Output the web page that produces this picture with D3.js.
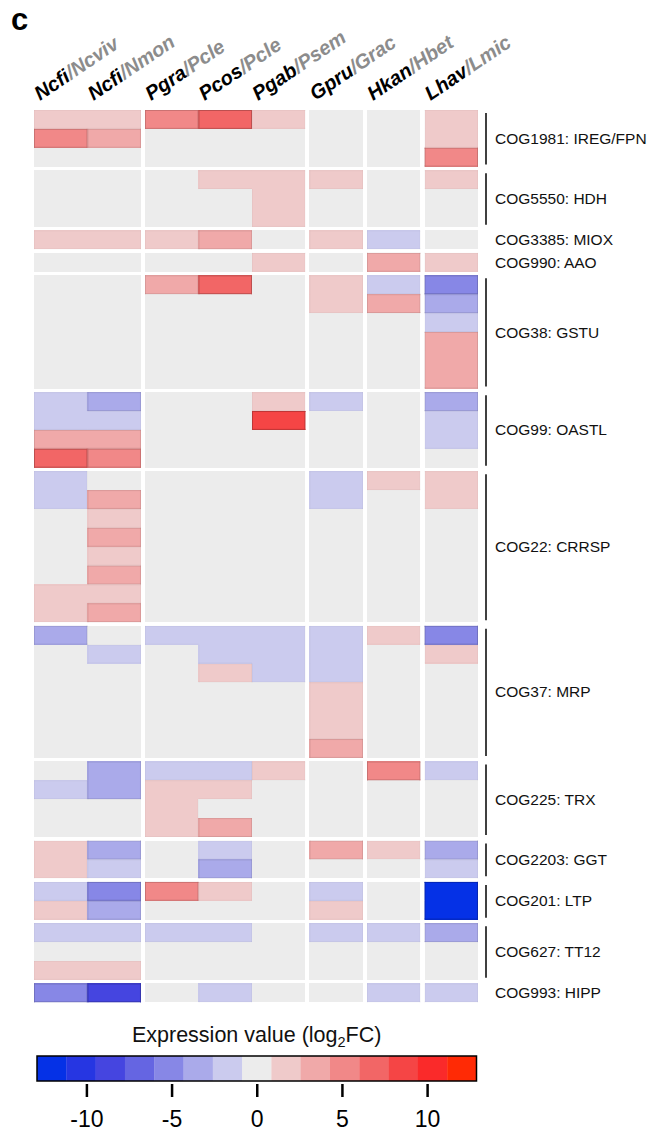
<!DOCTYPE html>
<html>
<head>
<meta charset="utf-8">
<script src="https://cdn.jsdelivr.net/npm/d3@7"></script>
<style>
  html, body { margin: 0; padding: 0; background: #fff; }
  svg { display: block; font-family: "Liberation Sans", Arial, Helvetica, sans-serif; }
</style>
</head>
<body>
<svg id="chart" width="652" height="1134"></svg>
<script>
// ---------------- DATA ----------------
const columns = ["Ncfi/Ncviv", "Ncfi/Nmon", "Pgra/Pcle", "Pcos/Pcle", "Pgab/Psem", "Gpru/Grac", "Hkan/Hbet", "Lhav/Lmic"];
const columnGroup = [0, 0, 1, 1, 1, 2, 3, 4];

const groupLabels = ["COG1981: IREG/FPN", "COG5550: HDH", "COG3385: MIOX", "COG990: AAO", "COG38: GSTU",
  "COG99: OASTL", "COG22: CRRSP", "COG37: MRP", "COG225: TRX", "COG2203: GGT", "COG201: LTP",
  "COG627: TT12", "COG993: HIPP"];

// log2FC values, one row per gene, columns in the order above
const IREG = [
  [2, 2, 5, 7, 2, 0, 0, 2],
  [5, 3.5, 0, 0, 0, 0, 0, 2],
  [0, 0, 0, 0, 0, 0, 0, 5]
];
const HDH = [
  [0, 0, 0, 2, 2, 2, 0, 2],
  [0, 0, 0, 0, 2, 0, 0, 0],
  [0, 0, 0, 0, 2, 0, 0, 0]
];
const MIOX = [
  [2, 2, 2, 3.5, 0, 2, -2, 0]
];
const AAO = [
  [0, 0, 0, 0, 2, 0, 3.5, 2]
];
const GSTU = [
  [0, 0, 3.5, 7, 0, 2, -2, -5],
  [0, 0, 0, 0, 0, 2, 3.5, -3.5],
  [0, 0, 0, 0, 0, 0, 0, -2],
  [0, 0, 0, 0, 0, 0, 0, 3.5],
  [0, 0, 0, 0, 0, 0, 0, 3.5],
  [0, 0, 0, 0, 0, 0, 0, 3.5]
];
const OASTL = [
  [-2, -3.5, 0, 0, 2, -2, 0, -3.5],
  [-2, -2, 0, 0, 8.5, 0, 0, -2],
  [3.5, 3.5, 0, 0, 0, 0, 0, -2],
  [7, 5, 0, 0, 0, 0, 0, 0]
];
const CRRSP = [
  [-2, 0, 0, 0, 0, -2, 2, 2],
  [-2, 3.5, 0, 0, 0, -2, 0, 2],
  [0, 2, 0, 0, 0, 0, 0, 0],
  [0, 3.5, 0, 0, 0, 0, 0, 0],
  [0, 2, 0, 0, 0, 0, 0, 0],
  [0, 3.5, 0, 0, 0, 0, 0, 0],
  [2, 2, 0, 0, 0, 0, 0, 0],
  [2, 3.5, 0, 0, 0, 0, 0, 0]
];
const MRP = [
  [-3.5, 0, -2, -2, -2, -2, 2, -5],
  [0, -2, 0, -2, -2, -2, 0, 2],
  [0, 0, 0, 2, -2, -2, 0, 0],
  [0, 0, 0, 0, 0, 2, 0, 0],
  [0, 0, 0, 0, 0, 2, 0, 0],
  [0, 0, 0, 0, 0, 2, 0, 0],
  [0, 0, 0, 0, 0, 3.5, 0, 0]
];
const TRX = [
  [0, -3.5, -2, -2, 2, 0, 5, -2],
  [-2, -3.5, 2, 2, 0, 0, 0, 0],
  [0, 0, 2, 0, 0, 0, 0, 0],
  [0, 0, 2, 3.5, 0, 0, 0, 0]
];
const GGT = [
  [2, -3.5, 0, -2, 0, 3.5, 2, -3.5],
  [2, -2, 0, -3.5, 0, 0, 0, -2]
];
const LTP = [
  [-2, -5, 5, 2, 0, -2, 0, -12],
  [2, -3.5, 0, 0, 0, 2, 0, -12]
];
const TT12 = [
  [-2, -2, -2, -2, 0, -2, -2, -3.5],
  [0, 0, 0, 0, 0, 0, 0, 0],
  [2, 2, 0, 0, 0, 0, 0, 0]
];
const HIPP = [
  [-5, -8.5, 0, -2, 0, 0, -2, -2]
];
const groupValues = [IREG, HDH, MIOX, AAO, GSTU, OASTL, CRRSP, MRP, TRX, GGT, LTP, TT12, HIPP];

// colour key
const legendTicks = [-10, -5, 0, 5, 10];
const legendDomain = [-12.9, 12.9];
const binColors = ["#0531e6", "#2636e2", "#4545e0", "#6565e2", "#8787e6", "#aaaaea", "#cbcbee",
  "#ececec", "#efcaca", "#f0a9a9", "#f18888", "#f26666", "#f54545", "#fa2a2a", "#ff2a05"];

// ---------------- LAYOUT ----------------
const svg = d3.select("#chart");
const colGapFrac = 0.075, rowGapFrac = 0.19;

const colSlot = columns.map((c, i) => i + columnGroup[i] * colGapFrac);
const nColSlots = columns.length + d3.max(columnGroup) * colGapFrac;
const x = d3.scaleLinear().domain([0, nColSlots]).range([34, 478]);

const rows = [];
let r = 0;
groupValues.forEach((g, gi) => {
  g.forEach((vals, ri) => {
    rows.push({ group: gi, ri, slot: r + gi * rowGapFrac, vals });
    r++;
  });
});
const nRowSlots = r + (groupValues.length - 1) * rowGapFrac;
const y = d3.scaleLinear().domain([0, nRowSlots]).range([110, 1002.3]);

const color = d3.scaleQuantize().domain(legendDomain).range(binColors);
const binIndex = v => binColors.indexOf(color(v)) - 7;

// ---------------- CELLS ----------------
const cells = [];
rows.forEach(row => row.vals.forEach((v, ci) => cells.push({ v, ci, ri: row.ri, group: row.group, slot: row.slot })));

const cellAt = (g, ri, ci) => {
  const m = groupValues[g];
  if (ri < 0 || ri >= m.length || ci < 0 || ci >= columns.length) return null;
  return m[ri][ci];
};

const gCells = svg.append("g");
gCells.selectAll("rect").data(cells).join("rect")
  .attr("x", d => x(colSlot[d.ci]))
  .attr("y", d => y(d.slot))
  .attr("width", d => x(colSlot[d.ci] + 1) - x(colSlot[d.ci]))
  .attr("height", d => y(d.slot + 1) - y(d.slot))
  .attr("fill", d => color(d.v))
  .attr("shape-rendering", "crispEdges");

// outline of each coloured block (only where the neighbour has another colour)
function edgePath(d) {
  const x0 = x(colSlot[d.ci]) + 0.5, x1 = x(colSlot[d.ci] + 1) - 0.5;
  const y0 = y(d.slot) + 0.5, y1 = y(d.slot + 1) - 0.5;
  const c = color(d.v);
  const diff = n => n === null || color(n) !== c;
  const left = (d.ci > 0 && columnGroup[d.ci - 1] === columnGroup[d.ci]) ? cellAt(d.group, d.ri, d.ci - 1) : null;
  const right = (d.ci < columns.length - 1 && columnGroup[d.ci + 1] === columnGroup[d.ci]) ? cellAt(d.group, d.ri, d.ci + 1) : null;
  let p = "";
  if (diff(cellAt(d.group, d.ri - 1, d.ci))) p += `M${x0 - 0.5},${y0}H${x1 + 0.5}`;
  if (diff(cellAt(d.group, d.ri + 1, d.ci))) p += `M${x0 - 0.5},${y1}H${x1 + 0.5}`;
  if (diff(left)) p += `M${x0},${y0 - 0.5}V${y1 + 0.5}`;
  if (diff(right)) p += `M${x1},${y0 - 0.5}V${y1 + 0.5}`;
  return p || null;
}
gCells.selectAll("path").data(cells.filter(d => binIndex(d.v) !== 0)).join("path")
  .attr("d", edgePath)
  .attr("fill", "none")
  .attr("stroke", d => d3.color(color(d.v)).darker(0.7))
  .attr("stroke-opacity", d => Math.min(1, (Math.abs(binIndex(d.v)) - 0.6) * 0.3))
  .attr("stroke-width", 1);

// ---------------- COLUMN LABELS ----------------
const colLab = svg.append("g").selectAll("text").data(columns).join("text")
  .attr("transform", (d, i) => `translate(${x(colSlot[i]) + 6},${101}) rotate(-34)`)
  .attr("font-size", 20)
  .attr("font-weight", "bold")
  .attr("font-style", "italic");
colLab.append("tspan").attr("fill", "#000").text(d => d.split("/")[0]);
colLab.append("tspan").attr("fill", "#8c8c8c").text(d => "/" + d.split("/")[1]);

// ---------------- GROUP LABELS / BRACKETS ----------------
const groups = groupValues.map((g, gi) => {
  const rs = rows.filter(d => d.group === gi);
  return { label: groupLabels[gi], n: g.length, top: y(rs[0].slot), bottom: y(rs[rs.length - 1].slot + 1) };
});
const gLab = svg.append("g");
gLab.selectAll("line").data(groups.filter(g => g.n > 1)).join("line")
  .attr("x1", 486).attr("x2", 486)
  .attr("y1", d => d.top + 3).attr("y2", d => d.bottom - 2)
  .attr("stroke", "#404040").attr("stroke-width", 2);
gLab.selectAll("text").data(groups).join("text")
  .attr("x", 495)
  .attr("y", d => (d.top + d.bottom) / 2)
  .attr("dy", "0.36em")
  .attr("font-size", 15.5)
  .attr("fill", "#111")
  .text(d => d.label);

// ---------------- PANEL LETTER ----------------
svg.append("text").attr("x", 11).attr("y", 30).attr("font-size", 31).attr("font-weight", "bold").text("c");

// ---------------- LEGEND ----------------
const lx = d3.scaleLinear().domain(legendDomain).range([37, 476.5]);
const ly0 = 1056, ly1 = 1081;
const step = (legendDomain[1] - legendDomain[0]) / binColors.length;
const leg = svg.append("g");
leg.selectAll("rect").data(binColors).join("rect")
  .attr("x", (d, i) => lx(legendDomain[0] + i * step))
  .attr("width", (d, i) => lx(legendDomain[0] + (i + 1) * step) - lx(legendDomain[0] + i * step) + 0.3)
  .attr("y", ly0).attr("height", ly1 - ly0)
  .attr("fill", d => d);
leg.append("rect").attr("x", lx(legendDomain[0])).attr("y", ly0)
  .attr("width", lx(legendDomain[1]) - lx(legendDomain[0])).attr("height", ly1 - ly0)
  .attr("fill", "none").attr("stroke", "#000").attr("stroke-width", 1.5);

const axis = d3.axisBottom(lx).tickValues(legendTicks).tickSize(13).tickPadding(14).tickFormat(d3.format("d"));
const ax = leg.append("g").attr("transform", `translate(0,${1084})`).call(axis);
ax.select(".domain").remove();
ax.selectAll(".tick line").attr("stroke", "#000").attr("stroke-width", 2.5);
ax.selectAll(".tick text").attr("font-size", 23).attr("fill", "#000")
  .attr("font-family", "'Liberation Sans', Arial, sans-serif")
  .text(d => d < 0 ? "-" + Math.abs(d) : d);

const title = leg.append("text").attr("x", 256.7).attr("y", 1042).attr("text-anchor", "middle")
  .attr("font-size", 21.5).attr("fill", "#111");
title.append("tspan").text("Expression value (log");
title.append("tspan").attr("font-size", 14.5).attr("dy", 5).text("2");
title.append("tspan").attr("dy", -5).text("FC)");
</script>
</body>
</html>
